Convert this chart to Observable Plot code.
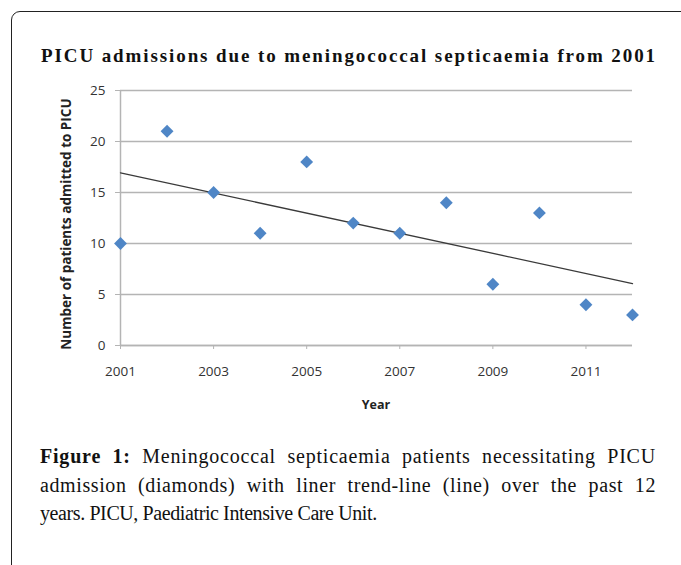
<!DOCTYPE html>
<html>
<head>
<meta charset="utf-8">
<script src="https://cdn.jsdelivr.net/npm/d3@7"></script>
<script src="https://cdn.jsdelivr.net/npm/@observablehq/plot@0.6"></script>
<style>
  html, body { margin: 0; padding: 0; background: #fff; }
  #page { position: relative; width: 681px; height: 565px; overflow: hidden; }
  #frame { position: absolute; left: 11px; top: 11px; width: 700px; height: 600px;
           border: 1.5px solid #222; border-radius: 9px; box-sizing: border-box; }
  #title { position: absolute; left: 0; width: 698px; top: 45px; text-align: center;
           font-family: "Liberation Serif", serif; font-size: 19px; font-weight: bold;
           letter-spacing: 1.9px; color: #111; white-space: nowrap; }
  #chart { position: absolute; left: 0; top: 0; }
  #ylabel { position: absolute; left: 66px; top: 224px; transform: translate(-50%, -50%) rotate(-90deg);
            font-family: "Open Sans", sans-serif; font-weight: bold; font-size: 13.5px; color: #222; white-space: nowrap; }
  #xlabel { position: absolute; left: 376px; top: 404px; transform: translate(-50%, -50%);
            font-family: "Open Sans", sans-serif; font-weight: bold; font-size: 12.5px; color: #222; }
  .cap { position: absolute; left: 40px; width: 616px; font-family: "Liberation Serif", serif;
         font-size: 20px; color: #111; white-space: nowrap; }
  .just { text-align: justify; text-align-last: justify; white-space: normal; }
</style>
</head>
<body>
<div id="page">
  <div id="frame"></div>
  <div id="title">PICU admissions due to meningococcal septicaemia from 2001</div>
  <div id="chart"></div>
  <div id="ylabel">Number of patients admitted to PICU</div>
  <div id="xlabel">Year</div>
  <div class="cap just" style="top:445px; letter-spacing:0.8px"><b>Figure 1:</b> Meningococcal septicaemia patients necessitating PICU</div>
  <div class="cap just" style="top:474px; letter-spacing:0.6px">admission (diamonds) with liner trend-line (line) over the past 12</div>
  <div class="cap" style="top:502px; letter-spacing:-0.4px">years. PICU, Paediatric Intensive Care Unit.</div>
</div>
<script>
const years = [2001, 2002, 2003, 2004, 2005, 2006, 2007, 2008, 2009, 2010, 2011, 2012];
const patients = [10, 21, 15, 11, 18, 12, 11, 14, 6, 13, 4, 3];
const xTicks = [2001, 2003, 2005, 2007, 2009, 2011];
const yTicks = [0, 5, 10, 15, 20, 25];

const data = years.map((y, i) => ({year: y, patients: patients[i]}));

const chart = Plot.plot({
  width: 681,
  height: 420,
  marginLeft: 120,
  marginRight: 49,
  marginTop: 90,
  marginBottom: 75,
  style: {fontFamily: "'Open Sans', sans-serif", fontSize: "13.5px", color: "#333", background: "transparent"},
  x: {domain: [2001, 2012], label: null},
  y: {domain: [0, 25], label: null},
  marks: [
    Plot.gridY(yTicks, {stroke: "#b4b4b4", strokeOpacity: 1, strokeWidth: 1.5}),
    Plot.ruleX([2001], {stroke: "#b4b4b4", strokeWidth: 1.5}),
    Plot.ruleY([0], {stroke: "#b4b4b4", strokeWidth: 1.5}),
    Plot.axisY(yTicks, {tickSize: 5, tickPadding: 10, stroke: "#b4b4b4", fill: "#333", label: null}),
    Plot.axisX(xTicks, {tickSize: 4, tickPadding: 17, stroke: "#b4b4b4", fill: "#333", tickFormat: d => String(d), label: null}),
    Plot.linearRegressionY(data, {x: "year", y: "patients", ci: 0, stroke: "#3a3a3a", strokeWidth: 1.3}),
    Plot.dot(data, {x: "year", y: "patients", symbol: "diamond2", fill: "#4f86c6", stroke: "none", r: 5.8})
  ]
});
document.getElementById("chart").appendChild(chart);
</script>
</body>
</html>
